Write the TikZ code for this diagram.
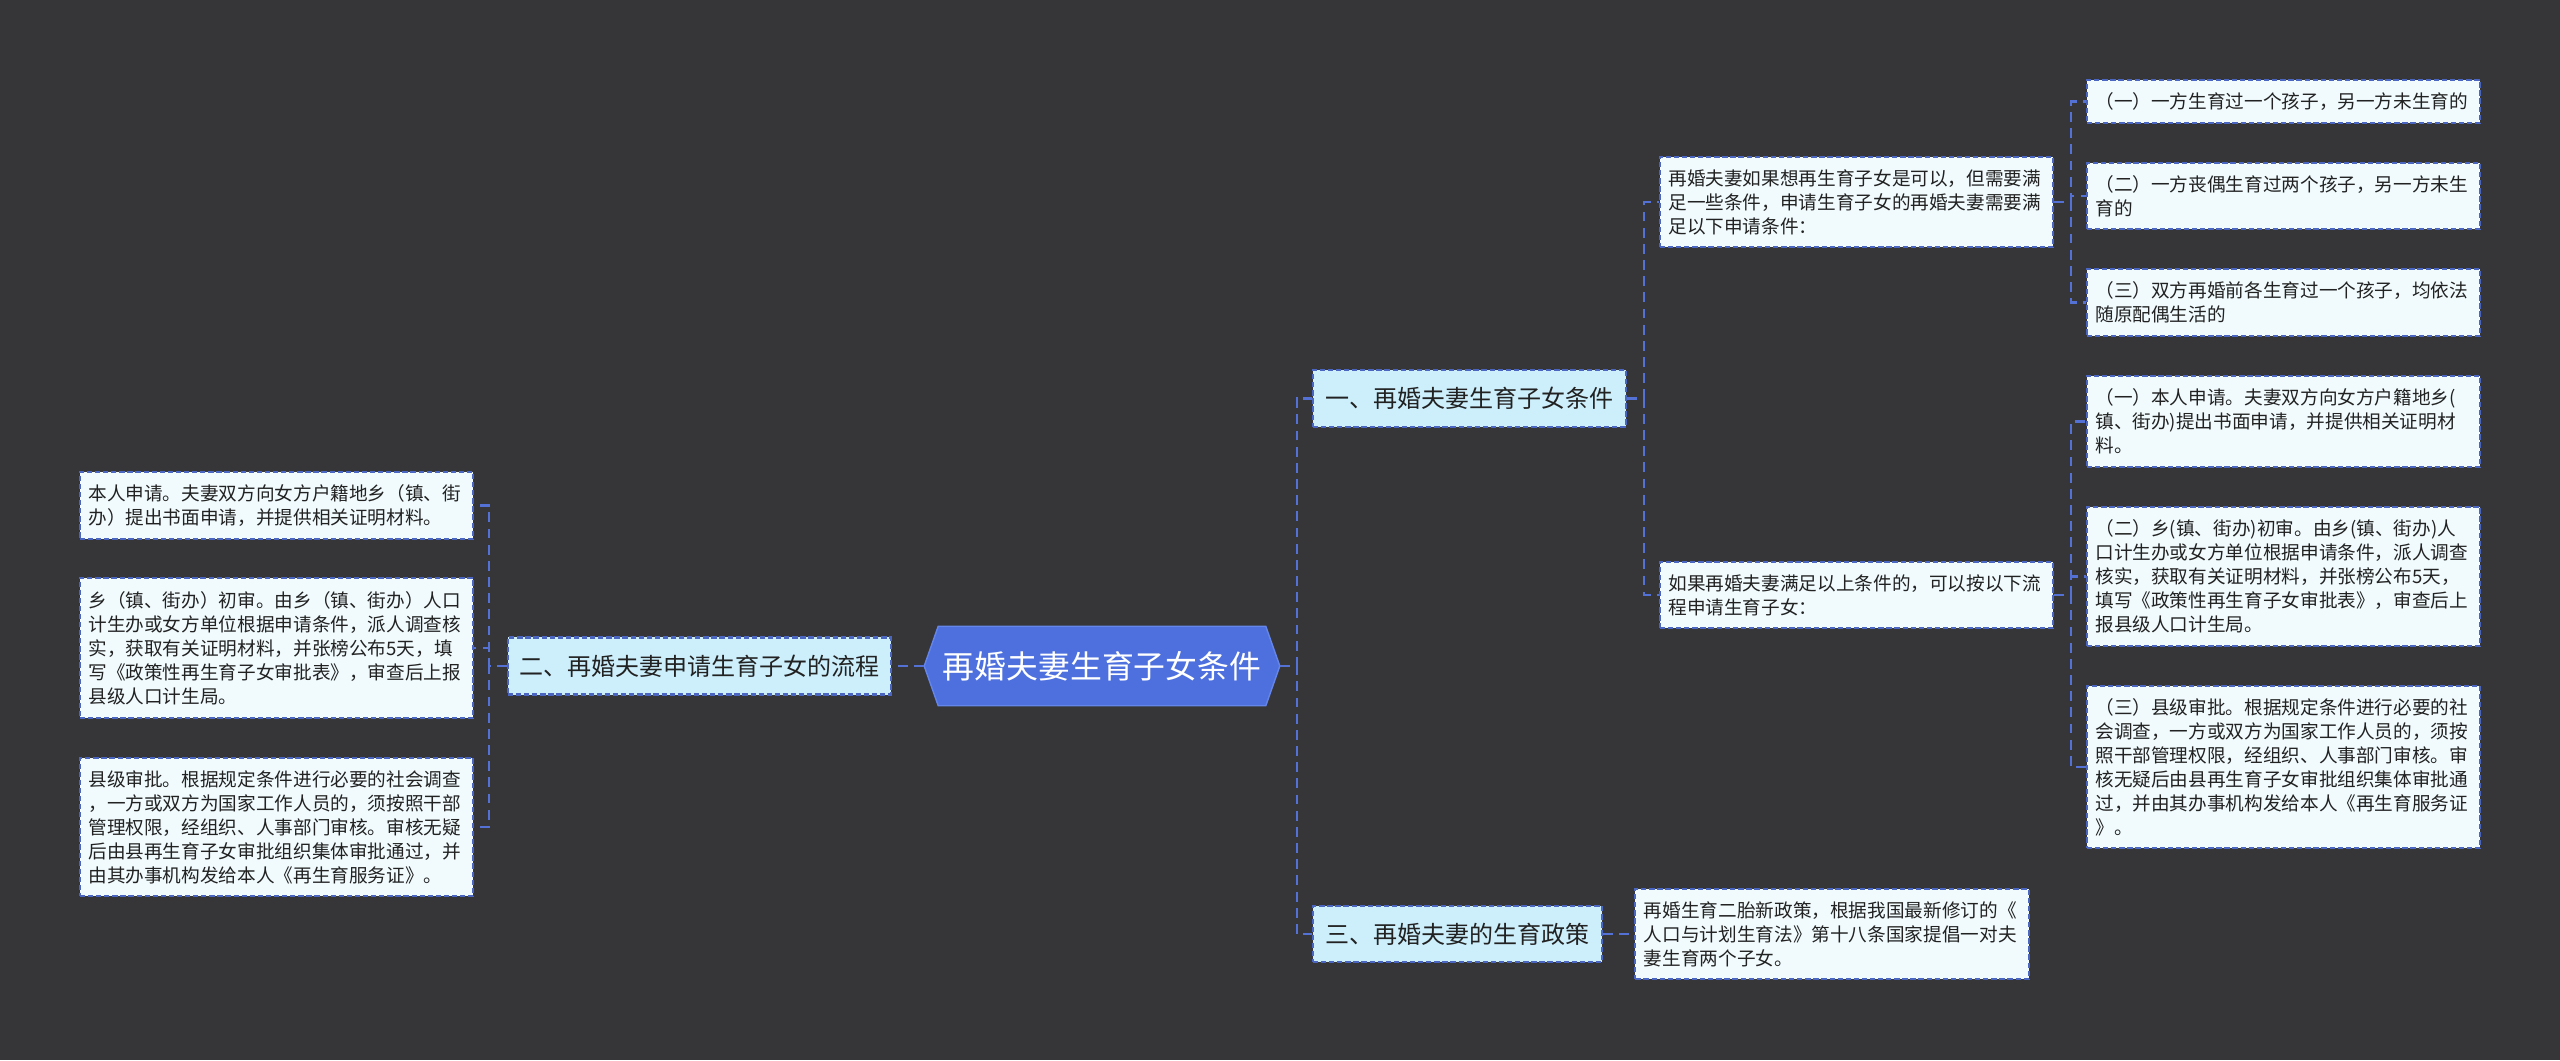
\documentclass[tikz,border=0pt]{standalone}
\usepackage{fontspec}
\setmainfont{Noto Sans CJK SC}
\usepackage{xcolor}
\usepackage{tikz}
\usetikzlibrary{positioning,calc}
\definecolor{bgcol}{HTML}{363538}
\definecolor{rootblue}{HTML}{4D70DE}
\definecolor{rootedge}{HTML}{6485EA}
\definecolor{linkblue}{HTML}{5472D6}
\definecolor{boxblue}{HTML}{4A66C0}
\definecolor{branchfill}{HTML}{CDEFFC}
\definecolor{leaffill}{HTML}{F1FBFE}
\definecolor{inkcol}{HTML}{222222}

\begin{document}
\begin{tikzpicture}[x=0.01cm,y=-0.01cm,
    link/.style={draw=linkblue, line width=0.65pt, dash pattern=on 2.8pt off 1.8pt},
    branchbox/.style={rectangle, fill=branchfill, draw=boxblue, line width=0.6pt, dash pattern=on 1.5pt off 0.8pt,
        text=inkcol, inner xsep=0.1cm, inner ysep=0cm, minimum height=0.57cm, font=\fontsize{6.83pt}{8pt}\selectfont},
    leafbox/.style={rectangle, fill=leaffill, draw=boxblue, line width=0.6pt, dash pattern=on 1.5pt off 0.8pt,
        text=inkcol, text width=3.76cm, inner xsep=0.085cm, inner ysep=0.05cm, align=left,
        font=\fontsize{5.3pt}{6.83pt}\selectfont}]
    \fill[bgcol] (0,0) rectangle (2560,1060);
    \useasboundingbox (0,0) rectangle (2560,1060);

    \node[minimum width=3.54cm, minimum height=0.78cm, inner sep=0pt] (root) at (1102,666) {};
    \fill[rootblue, draw=rootedge, line width=0.4pt] (root.west) -- ([xshift=0.14cm]root.north west) -- ([xshift=-0.14cm]root.north east)
        -- (root.east) -- ([xshift=-0.14cm]root.south east) -- ([xshift=0.14cm]root.south west) -- cycle;
    \node[text=white, font=\fontsize{9.05pt}{10pt}\selectfont] at (root.center) {再婚夫妻生育子女条件};

    \node[branchbox, minimum width=3.83cm] (b2) at (699.5,666) {二、再婚夫妻申请生育子女的流程};
    \node[branchbox, minimum width=3.13cm] (b1) at (1469.5,398.5) {一、再婚夫妻生育子女条件};
    \node[branchbox, minimum width=2.89cm, minimum height=0.56cm] (b3) at (1457.5,934) {三、再婚夫妻的生育政策};

    \node[leafbox, minimum height=0.67cm] (l1) at (276.5,505.5) {本人申请。夫妻双方向女方户籍地乡（镇、街\\办）提出书面申请，并提供相关证明材料。};
    \node[leafbox, minimum height=1.40cm] (l2) at (276.5,648) {乡（镇、街办）初审。由乡（镇、街办）人口\\计生办或女方单位根据申请条件，派人调查核\\实，获取有关证明材料，并张榜公布5天，填\\写《政策性再生育子女审批表》，审查后上报\\县级人口计生局。};
    \node[leafbox, minimum height=1.38cm] (l3) at (276.5,827) {县级审批。根据规定条件进行必要的社会调查\\，一方或双方为国家工作人员的，须按照干部\\管理权限，经组织、人事部门审核。审核无疑\\后由县再生育子女审批组织集体审批通过，并\\由其办事机构发给本人《再生育服务证》。};

    \node[leafbox, minimum height=0.90cm] (d1) at (1856.5,202) {再婚夫妻如果想再生育子女是可以，但需要满\\足一些条件，申请生育子女的再婚夫妻需要满\\足以下申请条件：};
    \node[leafbox, minimum height=0.66cm] (d2) at (1856.5,595) {如果再婚夫妻满足以上条件的，可以按以下流\\程申请生育子女：};
    \node[leafbox, minimum height=0.90cm] (d3) at (1832,934) {再婚生育二胎新政策，根据我国最新修订的《\\人口与计划生育法》第十八条国家提倡一对夫\\妻生育两个子女。};

    \node[leafbox, minimum height=0.43cm] (r1) at (2283.5,101.5) {（一）一方生育过一个孩子，另一方未生育的};
    \node[leafbox, minimum height=0.66cm] (r2) at (2283.5,196) {（二）一方丧偶生育过两个孩子，另一方未生\\育的};
    \node[leafbox, minimum height=0.67cm] (r3) at (2283.5,302.5) {（三）双方再婚前各生育过一个孩子，均依法\\随原配偶生活的};
    \node[leafbox, minimum height=0.91cm] (r4) at (2283.5,421.5) {（一）本人申请。夫妻双方向女方户籍地乡(\\镇、街办)提出书面申请，并提供相关证明材\\料。};
    \node[leafbox, minimum height=1.39cm] (r5) at (2283.5,576.5) {（二）乡(镇、街办)初审。由乡(镇、街办)人\\口计生办或女方单位根据申请条件，派人调查\\核实，获取有关证明材料，并张榜公布5天，\\填写《政策性再生育子女审批表》，审查后上\\报县级人口计生局。};
    \node[leafbox, minimum height=1.62cm] (r6) at (2283.5,767) {（三）县级审批。根据规定条件进行必要的社\\会调查，一方或双方为国家工作人员的，须按\\照干部管理权限，经组织、人事部门审核。审\\核无疑后由县再生育子女审批组织集体审批通\\过，并由其办事机构发给本人《再生育服务证\\》。};

    \draw[link] (root.west) -- (b2.east);
    \draw[link] (b2.west) -- ++(-18,0) |- (l1.east);
    \draw[link] (b2.west) -- ++(-18,0) |- (l2.east);
    \draw[link] (b2.west) -- ++(-18,0) |- (l3.east);
    \draw[link] (root.east) -- ++(17,0) |- (b1.west);
    \draw[link] (root.east) -- ++(17,0) |- (b3.west);
    \draw[link] (b1.east) -- ++(17,0) |- (d1.west);
    \draw[link] (b1.east) -- ++(17,0) |- (d2.west);
    \draw[link] (b3.east) -- (d3.west);
    \draw[link] (d1.east) -- ++(17,0) |- (r1.west);
    \draw[link] (d1.east) -- ++(17,0) |- (r2.west);
    \draw[link] (d1.east) -- ++(17,0) |- (r3.west);
    \draw[link] (d2.east) -- ++(17,0) |- (r4.west);
    \draw[link] (d2.east) -- ++(17,0) |- (r5.west);
    \draw[link] (d2.east) -- ++(17,0) |- (r6.west);
\end{tikzpicture}
\end{document}
